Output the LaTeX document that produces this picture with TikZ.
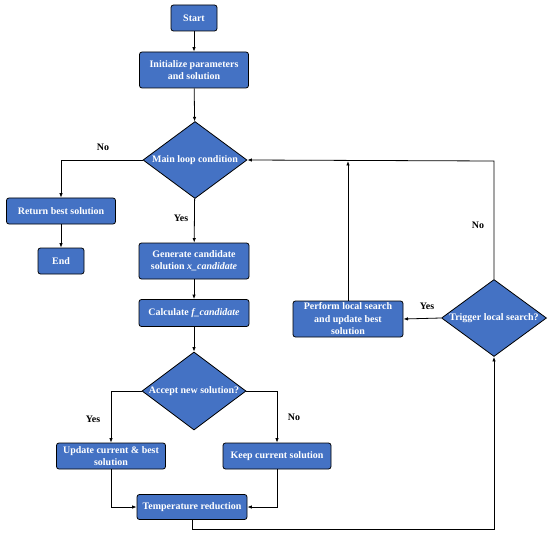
\documentclass[tikz,border=0pt]{standalone}
\usepackage{fontspec}
\setmainfont{Liberation Serif}
\usetikzlibrary{shapes.geometric,arrows.meta}
\definecolor{boxblue}{HTML}{4472C4}
\begin{document}
\begin{tikzpicture}[x=1bp,y=-1bp,
  box/.style={draw=black,line width=0.8bp,fill=boxblue,rounded corners=2.5bp,text=white,
    font=\fontsize{10}{12.5}\selectfont\bfseries,align=center,inner sep=0.5bp},
  dia/.style={draw=black,line width=0.8bp,fill=boxblue,diamond,inner sep=0pt,text=white,
    font=\fontsize{10}{12.5}\selectfont\bfseries},
  lbl/.style={font=\fontsize{10}{12.5}\selectfont\bfseries,text=black},
  conn/.style={draw=black,line width=0.8bp,-{Latex[length=4.5bp,width=3.5bp]}},
  plain/.style={draw=black,line width=0.8bp}]
\useasboundingbox (0,0) rectangle (550,537);
\node[box,minimum width=46bp,minimum height=26bp] (start) at (194,18) {Start};
\node[box,minimum width=109bp,minimum height=36bp] (init) at (194,70) {Initialize parameters\\and solution};
\node[dia,minimum width=104bp,minimum height=77bp] (main) at (195,160) {\makebox[0pt]{Main loop condition}};
\node[box,minimum width=109bp,minimum height=26bp] (ret) at (61,211) {Return best solution};
\node[box,minimum width=46bp,minimum height=26bp] (end) at (61,261) {End};
\node[box,minimum width=110bp,minimum height=36bp] (gen) at (194,261) {Generate candidate\\solution \textit{x\_candidate}};
\node[box,minimum width=110bp,minimum height=27bp] (calc) at (194,313) {Calculate \textit{f\_candidate}};
\node[dia,minimum width=104bp,minimum height=78bp] (acc) at (194,391) {\makebox[0pt]{Accept new solution?}};
\node[box,minimum width=109bp,minimum height=26bp] (upd) at (111,456) {Update current \& best\\solution};
\node[box,minimum width=108bp,minimum height=26bp] (keep) at (277,456) {Keep current solution};
\node[box,minimum width=110bp,minimum height=25bp] (temp) at (192,507) {Temperature reduction};
\node[dia,minimum width=105bp,minimum height=77bp] (trig) at (494,318) {\makebox[0pt]{Trigger local search?}};
\node[box,minimum width=110bp,minimum height=36bp] (perf) at (348,319) {Perform local search\\and update best\\solution};
\coordinate (bot) at (192,529);
\coordinate (topr) at (494,161);
\coordinate (perfup) at (348,161);
\draw[conn] (start) -- (init);
\draw[conn] (init) -- (main);
\draw[conn] (main.west) -| (ret.north);
\draw[conn] (ret) -- (end);
\draw[conn] (main) -- (gen);
\draw[conn] (gen) -- (calc);
\draw[conn] (calc) -- (acc);
\draw[conn] (acc.west) -| (upd.north);
\draw[conn] (acc.east) -| (keep.north);
\draw[conn] (upd.south) |- (temp.west);
\draw[conn] (keep.south) |- (temp.east);
\draw[conn] (temp.south) -- (bot) -| (trig.south);
\draw[conn] (trig.west) -- (perf.east);
\draw[conn] (trig.north) -- (topr) -- (main.east);
\draw[conn] (perf.north) -- (perfup);
\node[lbl] at (103,147) {No};
\node[lbl] at (181,218) {Yes};
\node[lbl] at (93,419) {Yes};
\node[lbl] at (294,417) {No};
\node[lbl] at (427,306) {Yes};
\node[lbl] at (478,225) {No};
\end{tikzpicture}
\end{document}
